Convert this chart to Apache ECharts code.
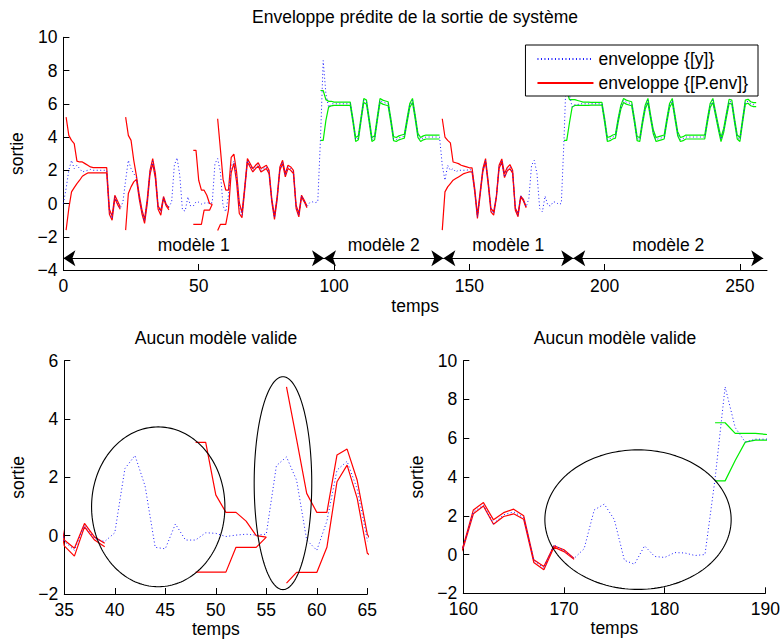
<!DOCTYPE html>
<html><head><meta charset="utf-8">
<script src="https://cdn.jsdelivr.net/npm/echarts@6/dist/echarts.min.js"></script>
<style>html,body{margin:0;padding:0;background:#fff}#c{width:783px;height:643px}</style>
</head><body><div id="c"></div><script>
// ---- data (time step = 1, starting at t = 0) ----
const sortieY = [
 0.0, 0.9, 2.0, 2.6, 2.1, 2.3, 2.1, 1.9, 1.95, 2.0,
 2.05, 2.0, 2.0, 2.0, 2.0, 2.0, 2.0, -0.5, -0.9, 0.4,
 0.05, -0.3, 0.1, 1.4, 2.6, 2.1, 1.8, 1.55, 0.4, -0.45,
 -1.05, 0.15, 1.9, 2.55, 1.65, -0.2, -0.5, 0.35, -0.1, -0.2,
 0.1, 2.3, 2.75, 1.7, -0.4, -0.45, 0.4, -0.15, -0.15, 0.1,
 0.08, -0.03, 0.02, 0.05, 0.02, 0.05, 2.4, 2.7, 1.9, -0.15,
 -0.5, 0.5, 2.25, 2.55, 1.6, -0.15, -0.7, 0.9, 2.6, 2.3,
 2.0, 2.2, 2.35, 2.0, 2.1, 2.2, 1.9, 0.2, -0.85, 0.35,
 2.1, 2.5, 1.7, 2.2, 2.1, 1.9, -0.2, -0.7, 0.45, 0.15,
 -0.2, 0.05, 0.1, 0.05, 0.1, 3.9, 8.6, 6.6, 5.8, 6.0,
 6.0, 6.0, 6.0, 6.0, 6.0, 6.0, 6.0, 5.0, 3.85, 3.95,
 5.1, 6.2, 6.1, 5.0, 3.85, 3.95, 5.1, 6.2, 6.1, 6.05,
 6.0, 5.0, 3.9, 3.85, 3.95, 4.0, 4.05, 5.0, 5.9, 6.2,
 5.2, 4.1, 3.85, 3.95, 4.0, 4.0, 4.0, 4.0, 4.0, 4.0,
 2.3, 1.4, 2.3, 2.0, 2.1, 1.9, 2.0, 2.0, 2.0, 2.0,
 2.05, 2.0, 0.8, -0.8, 0.6, 2.0, 2.6, 1.2, -0.4, -0.6,
 0.4, 2.2, 2.55, 1.6, 2.05, 2.2, 1.9, -0.3, -0.7, 0.5,
 0.2, -0.2, 0.3, 2.3, 2.6, 1.8, -0.3, -0.5, 0.45, -0.1,
 -0.15, 0.1, 0.08, -0.05, 0.0, 3.9, 8.65, 6.55, 5.8, 5.95,
 5.95, 6.0, 6.0, 6.0, 6.0, 6.0, 6.0, 6.0, 6.0, 6.0,
 5.0, 3.85, 3.9, 4.0, 4.05, 5.0, 5.8, 6.2, 6.1, 6.05,
 6.0, 5.0, 3.9, 3.85, 4.9, 5.8, 6.2, 5.2, 4.3, 3.85,
 3.9, 3.95, 4.0, 5.0, 5.9, 6.2, 5.2, 4.2, 3.85, 3.9,
 4.0, 4.0, 4.0, 4.0, 4.0, 4.0, 4.0, 4.0, 5.0, 5.9,
 6.2, 5.4, 4.6, 3.85, 4.4, 5.3, 6.15, 6.1, 5.0, 4.0,
 3.85, 5.0, 6.1, 6.15, 6.0, 5.95, 5.95
];

// red envelope (model 1), segments start at these times
const redStarts = [1, 23, 48, 57, 140];
const redUp1 = [5.2, 4.1, 3.8, 3.6, 2.55, 2.5, 2.5, 2.4, 2.3, 2.2, 2.16, 2.16, 2.16, 2.16, 2.16, 2.16, -0.35, -0.75, 0.5, 0.15, -0.2];
const redLo1 = [-1.6, -0.3, 0.7, 0.96, 1.2, 1.4, 1.64, 1.75, 1.84, 1.84, 1.84, 1.84, 1.84, 1.84, 1.84, 1.84, -0.65, -1.0, 0.3, -0.05, -0.35];
const redUp2 = [5.2, 4.1, 3.8, 2.6, 1.65, 0.55, -0.35, -0.95, 0.3, 2.0, 2.7, 1.8, -0.15, -0.43, 0.42, -0.05, -0.26];
const redLo2 = [-1.6, 0.6, 1.0, 1.3, 1.45, 0.3, -0.6, -1.2, 0.0, 1.75, 2.4, 1.5, -0.35, -0.7, 0.3, -0.15, -0.38];
const redUp3 = [3.2, 3.2, 1.4, 0.8, 0.8, 0.5, 0.0, -0.05];
const redLo3 = [-1.25, -1.25, -1.25, -1.25, -0.4, -0.4, -0.4, -0.05];
const redUp4 = [5.1, 3.3, 1.45, 0.8, 0.8, 2.77, 2.97, 1.9, 0.05, -0.55, 1.0, 2.7, 2.4, 2.1, 2.3, 2.45, 2.1, 2.2, 2.3, 2.0, 0.3, -0.75, 0.45, 2.2, 2.6, 1.8, 2.3, 2.2, 2.0, -0.1, -0.6, 0.5, 0.2, -0.15];
const redLo4 = [-1.63, -1.26, -1.26, -1.26, -0.4, 1.85, 2.42, 1.28, -0.6, -0.85, 0.8, 2.5, 2.2, 1.9, 2.1, 2.25, 1.9, 2.0, 2.1, 1.8, 0.1, -0.95, 0.25, 2.0, 2.4, 1.6, 2.1, 2.0, 1.8, -0.3, -0.8, 0.4, 0.1, -0.25];
const redUp5 = [5.1, 4.0, 3.8, 3.65, 2.5, 2.45, 2.4, 2.3, 2.25, 2.2, 2.15, 2.15, 0.9, -0.7, 0.7, 2.1, 2.7, 1.3, -0.3, -0.5, 0.45, 2.3, 2.68, 1.79, 2.16, 2.34, 2.0, -0.27, -0.62, 0.45, 0.25, -0.2];
const redLo5 = [-1.6, 0.7, 1.0, 1.2, 1.4, 1.5, 1.6, 1.7, 1.8, 1.85, 1.9, 1.9, 0.7, -0.9, 0.5, 1.9, 2.5, 1.1, -0.5, -0.7, 0.35, 2.1, 2.5, 1.56, 1.96, 2.1, 1.82, -0.41, -0.79, 0.38, 0.15, -0.25];

// green envelope (model 2)
const greenStarts = [95, 185];
const greenUp1 = [6.8, 6.8, 6.25, 6.15, 6.15,
 6.1, 6.1, 6.1, 6.1, 6.1, 6.1, 6.1, 5.1, 3.97, 4.07,
 5.22, 6.32, 6.22, 5.12, 3.97, 4.07, 5.22, 6.32, 6.22, 6.17,
 6.12, 5.12, 4.02, 3.97, 4.07, 4.12, 4.17, 5.12, 6.02, 6.32,
 5.32, 4.22, 3.97, 4.07, 4.12, 4.12, 4.12, 4.12, 4.12, 4.12];
const greenLo1 = [3.8, 3.8, 5.0, 5.8, 5.88,
 5.9, 5.9, 5.9, 5.9, 5.9, 5.9, 5.9, 4.88, 3.73, 3.83,
 4.98, 6.08, 5.98, 4.88, 3.73, 3.83, 4.98, 6.08, 5.98, 5.93,
 5.88, 4.88, 3.78, 3.73, 3.83, 3.88, 3.93, 4.88, 5.78, 6.08,
 5.08, 3.98, 3.73, 3.83, 3.88, 3.88, 3.88, 3.88, 3.88, 3.88];
const greenUp2 = [6.8, 6.8, 6.25, 6.25, 6.25,
 6.2, 6.15, 6.1, 6.1, 6.1, 6.08, 6.08, 6.08, 6.08, 6.08,
 5.12, 3.97, 4.02, 4.12, 4.17, 5.12, 5.92, 6.32, 6.22, 6.17,
 6.12, 5.12, 4.02, 3.97, 5.02, 5.92, 6.32, 5.32, 4.42, 3.97,
 4.02, 4.07, 4.12, 5.12, 6.02, 6.32, 5.32, 4.32, 3.97, 4.02,
 4.12, 4.12, 4.12, 4.12, 4.12, 4.12, 4.12, 4.12, 5.12, 6.02,
 6.32, 5.52, 4.72, 3.97, 4.52, 5.42, 6.27, 6.22, 5.12, 4.12,
 3.97, 5.12, 6.22, 6.27, 6.12, 6.07, 6.07];
const greenLo2 = [3.8, 3.8, 4.85, 5.8, 5.9,
 5.9, 5.9, 5.9, 5.9, 5.9, 5.92, 5.92, 5.92, 5.92, 5.92,
 4.88, 3.73, 3.78, 3.88, 3.93, 4.88, 5.68, 6.08, 5.98, 5.93,
 5.88, 4.88, 3.78, 3.73, 4.78, 5.68, 6.08, 5.08, 4.18, 3.73,
 3.78, 3.83, 3.88, 4.88, 5.78, 6.08, 5.08, 4.08, 3.73, 3.78,
 3.88, 3.88, 3.88, 3.88, 3.88, 3.88, 3.88, 3.88, 4.88, 5.78,
 6.08, 5.28, 4.48, 3.73, 4.28, 5.18, 6.03, 5.98, 4.88, 3.88,
 3.73, 4.88, 5.98, 6.03, 5.88, 5.83, 5.83];

// model phases (arrows) and labels
const phaseBounds = [0, 96.3, 140.4, 188.4, 258.6];
const phaseLabels = ['modèle 1', 'modèle 2', 'modèle 1', 'modèle 2'];
const phaseArrowY = -3.3;

// ellipses marking "no valid model" zones
const ellipseGrid = [1, 1, 2];
const ellipseCX = [44.3, 56.65, 177.35];
const ellipseCY = [0.99, 1.8, 1.8];
const ellipseRX = [6.6, 2.85, 9.25];
const ellipseRY = [2.74, 3.65, 3.6];

const titleMain = 'Enveloppe prédite de la sortie de système';
const titleSub = 'Aucun modèle valide';
const legendY = 'enveloppe {[y]}';
const legendP = 'enveloppe {[P.env]}';

// ---- build ----
function pairs(arr, start) { return arr.map((v, i) => [start + i, v]); }
function segments(starts, arrs) {
  const out = [];
  starts.forEach((s, k) => {
    if (k > 0) out.push([s - 0.5, '-']);
    pairs(arrs[k], s).forEach(p => out.push(p));
  });
  return out;
}
const yData = pairs(sortieY, 0);
const redUpData = segments(redStarts, [redUp1, redUp2, redUp3, redUp4, redUp5]);
const redLoData = segments(redStarts, [redLo1, redLo2, redLo3, redLo4, redLo5]);
const greenUpData = segments(greenStarts, [greenUp1, greenUp2]);
const greenLoData = segments(greenStarts, [greenLo1, greenLo2]);

const FONT = '"Liberation Sans", Arial, Helvetica, sans-serif';
const FS = 17.5;
const minus = v => String(v).replace('-', '\u2212');

const grids = [
  {left: 63.4, top: 37.3, width: 703.6, height: 232.7},
  {left: 64.3, top: 360.7, width: 303, height: 233.3},
  {left: 463.3, top: 360.7, width: 304, height: 232.6}
];
const xCfg = [
  {min: 0, max: 260, interval: 50},
  {min: 35, max: 65, interval: 5},
  {min: 160, max: 190, interval: 10}
];
const yCfg = [
  {min: -4, max: 10, interval: 2},
  {min: -2, max: 6, interval: 2},
  {min: -2, max: 10, interval: 2}
];
const axisCommon = {
  type: 'value',
  axisLine: {show: true, onZero: false, lineStyle: {color: '#000', width: 1}},
  axisTick: {show: true, inside: true, length: 6, lineStyle: {color: '#000'}},
  splitLine: {show: false},
  nameTextStyle: {fontFamily: FONT, fontSize: FS, color: '#000'},
};
const xAxis = xCfg.map((c, i) => Object.assign({}, axisCommon, c, {
  gridIndex: i,
  name: 'temps', nameLocation: 'middle', nameGap: i === 0 ? 27 : 26,
  axisLabel: {fontFamily: FONT, fontSize: FS, lineHeight: 15, color: '#000', margin: 8, showMaxLabel: i !== 0,
    formatter: v => (v % c.interval === 0 ? minus(v) : '')}
}));
const yAxis = yCfg.map((c, i) => Object.assign({}, axisCommon, c, {
  gridIndex: i,
  name: 'sortie', nameLocation: 'middle', nameRotate: 90, nameGap: 37,
  axisLabel: {fontFamily: FONT, fontSize: FS, lineHeight: 15, color: '#000', margin: 6, formatter: v => minus(v)}
}));

const series = [];
[0, 1, 2].forEach(g => {
  const base = {type: 'line', xAxisIndex: g, yAxisIndex: g, symbol: 'none', showSymbol: false,
    connectNulls: false, animation: false, clip: true, silent: true};
  series.push(Object.assign({}, base, {name: 'vert', data: greenUpData, lineStyle: {color: '#00ee00', width: 1.2}, itemStyle: {color: '#00ee00'}}));
  series.push(Object.assign({}, base, {name: 'vert', data: greenLoData, lineStyle: {color: '#00ee00', width: 1.2}, itemStyle: {color: '#00ee00'}}));
  series.push(Object.assign({}, base, {name: legendP, data: redUpData, lineStyle: {color: '#ff0000', width: 1.2}, itemStyle: {color: '#ff0000'}}));
  series.push(Object.assign({}, base, {name: legendP, data: redLoData, lineStyle: {color: '#ff0000', width: 1.2}, itemStyle: {color: '#ff0000'}}));
  series.push(Object.assign({}, base, {name: legendY, data: yData, z: 3, lineStyle: {color: '#1a1aff', width: 1, type: [1, 2.5]}, itemStyle: {color: '#1a1aff'}}));
});

// phase arrows on the top plot
series.push({
  type: 'line', xAxisIndex: 0, yAxisIndex: 0, data: [], silent: true, animation: false,
  markLine: {
    silent: true, animation: false,
    symbol: ['arrow', 'arrow'], symbolSize: 12,
    lineStyle: {color: '#000', width: 1, type: 'solid'},
    label: {show: true, position: 'middle', distance: 4, color: '#000', fontFamily: FONT, fontSize: FS,
      formatter: p => p.name},
    data: phaseLabels.map((lab, k) => [
      {name: lab, coord: [phaseBounds[k], phaseArrowY]},
      {coord: [phaseBounds[k + 1], phaseArrowY]}
    ])
  }
});

// ellipses
ellipseGrid.forEach((g, k) => {
  const pts = [];
  for (let i = 0; i <= 180; i++) {
    const a = i / 180 * 2 * Math.PI;
    pts.push([ellipseCX[k] + ellipseRX[k] * Math.cos(a), ellipseCY[k] + ellipseRY[k] * Math.sin(a)]);
  }
  series.push({type: 'line', name: 'ellipse', xAxisIndex: g, yAxisIndex: g, data: pts, symbol: 'none',
    showSymbol: false, silent: true, animation: false, clip: false, smooth: false, z: 4,
    lineStyle: {color: '#000', width: 1.1}});
});

const chart = echarts.init(document.getElementById('c'), null, {renderer: 'svg', width: 783, height: 643});
chart.setOption({
  backgroundColor: '#fff',
  animation: false,
  grid: grids,
  xAxis: xAxis,
  yAxis: yAxis,
  legend: {
    data: [legendY, legendP], orient: 'vertical', right: 25, top: 45,
    itemWidth: 56, itemHeight: 12, itemGap: 6, selectedMode: false,
    itemStyle: {opacity: 0, borderWidth: 0},
    borderColor: '#000', borderWidth: 1, backgroundColor: '#fff', padding: [5, 10, 4, 11],
    textStyle: {fontFamily: FONT, fontSize: FS, color: '#000'}
  },
  graphic: [
    {type: 'text', x: 415, y: 17, style: {text: titleMain, fontFamily: FONT, fontSize: FS, fill: '#000', align: 'center', verticalAlign: 'middle'}},
    {type: 'text', x: 216, y: 338, style: {text: titleSub, fontFamily: FONT, fontSize: FS, fill: '#000', align: 'center', verticalAlign: 'middle'}},
    {type: 'text', x: 615, y: 338, style: {text: titleSub, fontFamily: FONT, fontSize: FS, fill: '#000', align: 'center', verticalAlign: 'middle'}}
  ],
  series: series
});
</script></body></html>
